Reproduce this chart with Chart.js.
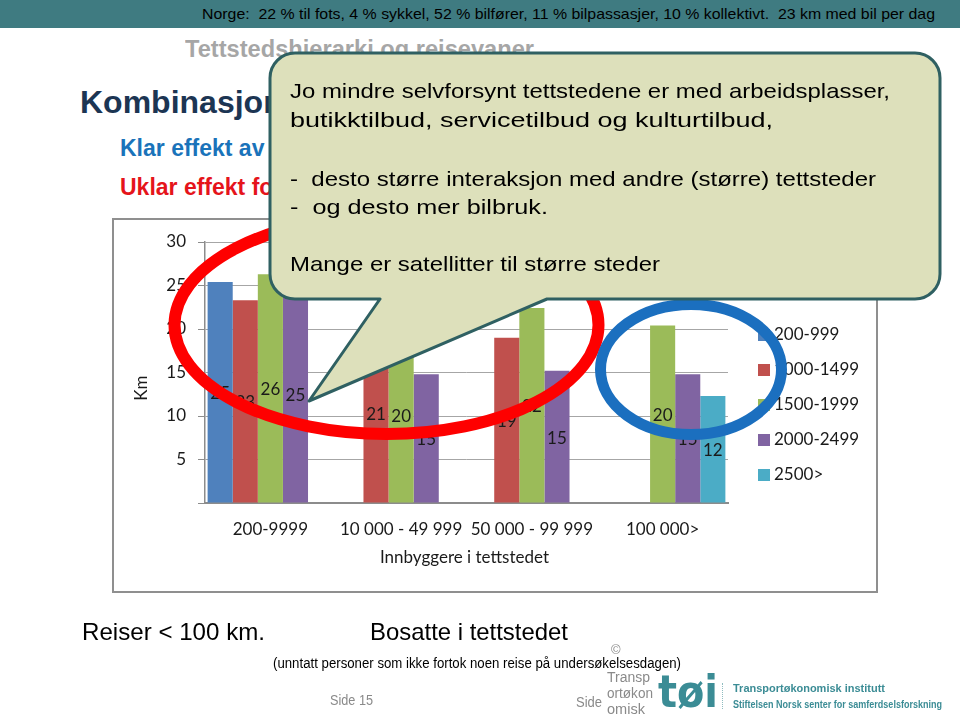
<!DOCTYPE html>
<html><head><meta charset="utf-8">
<script src="https://cdn.jsdelivr.net/npm/chart.js@4/dist/chart.umd.min.js"></script>
<style>
html,body{margin:0;padding:0;background:#fff;}
body{width:960px;height:717px;position:relative;overflow:hidden;font-family:"Liberation Sans",Arial,sans-serif;}
.t{position:absolute;white-space:pre;line-height:1;transform-origin:0 50%;}
#band{position:absolute;left:0;top:0;width:960px;height:28px;background:#3f7b81;}
#frame{position:absolute;left:112px;top:218px;width:766px;height:375px;box-sizing:border-box;border:2px solid #8f8f8f;background:#fff;}
#c{position:absolute;left:113px;top:219px;}
svg{position:absolute;left:0;top:0;}
</style></head>
<body>
<div id="band"></div>
<div class="t" data-x="202" data-y="15" data-s="14.5" data-w="733" style="color:#000">Norge:  22 % til fots, 4 % sykkel, 52 % bilfører, 11 % bilpassasjer, 10 % kollektivt.  23 km med bil per dag</div>
<div class="t" data-x="185" data-y="50" data-s="24" data-w="349" style="color:#a6a6a6;font-weight:bold">Tettstedshierarki og reisevaner</div>
<div class="t" data-x="80" data-y="104" data-s="32" style="color:#1c3553;font-weight:bold">Kombinasjoner</div>
<div class="t" data-x="120" data-y="150" data-s="23" style="color:#1a73ba;font-weight:bold">Klar effekt av størrelse</div>
<div class="t" data-x="120" data-y="189" data-s="23" style="color:#e5141b;font-weight:bold">Uklar effekt for de minste</div>

<div id="frame"></div>
<canvas id="c" width="764" height="372"></canvas>

<svg width="960" height="717" viewBox="0 0 960 717">
  <ellipse cx="386.5" cy="325" rx="212" ry="109" fill="none" stroke="#fe0000" stroke-width="12"/>
  <ellipse cx="691" cy="369.5" rx="90.5" ry="65" fill="none" stroke="#1b6fbf" stroke-width="11"/>
  <path d="M295,53 H915 A25,25 0 0 1 940,78 V274 A25,25 0 0 1 915,299 H547 L309,401 L380,299 H295 A25,25 0 0 1 270,274 V78 A25,25 0 0 1 295,53 Z" fill="#dde0bb" stroke="#2f6062" stroke-width="3" stroke-linejoin="round"/>
</svg>

<div class="t" data-x="290" data-y="92" data-s="21" data-w="600" style="color:#000">Jo mindre selvforsynt tettstedene er med arbeidsplasser,</div>
<div class="t" data-x="290" data-y="121" data-s="21" data-w="483" style="color:#000">butikktilbud, servicetilbud og kulturtilbud,</div>
<div class="t" data-x="290" data-y="180" data-s="21" data-w="586" style="color:#000">-  desto større interaksjon med andre (større) tettsteder</div>
<div class="t" data-x="290" data-y="208" data-s="21" data-w="258" style="color:#000">-  og desto mer bilbruk.</div>
<div class="t" data-x="290" data-y="265" data-s="21" data-w="370" style="color:#000">Mange er satellitter til større steder</div>

<div class="t" data-x="82" data-y="633" data-s="24" data-w="183" style="color:#000">Reiser &lt; 100 km.</div>
<div class="t" data-x="370" data-y="633" data-s="24" data-w="198" style="color:#000">Bosatte i tettstedet</div>
<div class="t" data-x="273" data-y="664" data-s="14" data-w="408" style="color:#000">(unntatt personer som ikke fortok noen reise på undersøkelsesdagen)</div>
<div class="t" data-x="330" data-y="701" data-s="14" data-w="43" style="color:#8a8a8a">Side 15</div>
<div class="t" data-x="576" data-y="703" data-s="14" data-w="26" style="color:#8a8a8a">Side</div>
<div class="t" data-x="611" data-y="650" data-s="13" style="color:#8a8a8a">©</div>
<div class="t" data-x="607" data-y="678" data-s="14" data-w="43" style="color:#8a8a8a">Transp</div>
<div class="t" data-x="607" data-y="694" data-s="14" data-w="46" style="color:#8a8a8a">ortøkon</div>
<div class="t" data-x="607" data-y="710" data-s="14" data-w="38" style="color:#8a8a8a">omisk</div>
<div class="t" data-x="658" data-y="694" data-s="44" data-w="60" style="color:#3b8c95;font-family:'DejaVu Sans',sans-serif;font-weight:bold">tøi</div>
<div style="position:absolute;left:722px;top:683px;height:26px;border-left:1px dotted #8fbcc0"></div>
<div class="t" data-x="733" data-y="689" data-s="11" data-w="152" style="color:#3b8c95;font-weight:bold">Transportøkonomisk institutt</div>
<div class="t" data-x="733" data-y="705" data-s="11" data-w="209" style="color:#3b8c95;font-weight:bold">Stiftelsen Norsk senter for samferdselsforskning</div>

<script>
// ---- data ----
const categories = ["200-9999", "10 000 - 49 999", "50 000 - 99 999", "100 000>"];
const seriesNames = ["200-999", "1000-1499", "1500-1999", "2000-2499", "2500>"];
const s200_999   = [25.4, null, null, null];
const s1000_1499 = [23.3, 20.6, 19.0, null];
const s1500_1999 = [26.3, 20.2, 22.4, 20.4];
const s2000_2499 = [24.9, 14.8, 15.2, 14.8];
const s2500      = [null, null, null, 12.3];
const yTicks = [5, 10, 15, 20, 25, 30];
const seriesColors = ["#4f81bd", "#c0504d", "#9bbb59", "#8064a2", "#4bacc6"];
const xTitle = "Innbyggere i tettstedet";
const yTitle = "Km";

// ---- text placement ----
document.querySelectorAll('.t').forEach(el => {
  const s = parseFloat(el.dataset.s);
  el.style.fontSize = s + 'px';
  el.style.left = el.dataset.x + 'px';
  el.style.top = (parseFloat(el.dataset.y) - s * 0.55) + 'px';
  if (el.dataset.w) {
    const w = el.getBoundingClientRect().width;
    el.style.transform = 'scaleX(' + (parseFloat(el.dataset.w) / w) + ')';
  }
});

// ---- chart ----
const FONT = "Lato, 'Open Sans', sans-serif";
const seriesData = [s200_999, s1000_1499, s1500_1999, s2000_2499, s2500];

const labelPlugin = {
  id: 'extras',
  afterDatasetsDraw(chart) {
    const ctx = chart.ctx;
    ctx.save();
    ctx.font = "17px " + FONT;
    ctx.fillStyle = "#1a1a1a";
    ctx.textAlign = "center";
    ctx.textBaseline = "middle";
    chart.data.datasets.forEach((ds, i) => {
      chart.getDatasetMeta(i).data.forEach((bar, j) => {
        const v = ds.data[j];
        if (v == null) return;
        ctx.fillText(String(Math.round(v)), bar.x, (bar.y + bar.base) / 2 + 1.5);
      });
    });
    ctx.restore();
  },
  afterDraw(chart) {
    const ctx = chart.ctx, a = chart.chartArea;
    ctx.save();
    ctx.font = "17px " + FONT;
    ctx.fillStyle = "#1a1a1a";
    ctx.textBaseline = "middle";
    // legend
    const lx = a.right + 30;
    const cy = chart.height / 2;
    chart.data.datasets.forEach((ds, i) => {
      const y = cy + (i - 2) * 35;
      ctx.fillStyle = ds.backgroundColor;
      ctx.fillRect(lx, y - 6, 12, 12);
      ctx.fillStyle = "#1a1a1a";
      ctx.textAlign = "left";
      ctx.fillText(ds.label, lx + 16, y);
    });
    // axis titles
    ctx.textAlign = "center";
    ctx.fillText(xTitle, (a.left + a.right) / 2 - 2, a.bottom + 55);
    ctx.translate(a.left - 63, a.top + (a.bottom - a.top) * 0.56);
    ctx.rotate(-Math.PI / 2);
    ctx.fillText(yTitle, 0, 0);
    ctx.restore();
  }
};

new Chart(document.getElementById('c'), {
  type: 'bar',
  data: {
    labels: categories,
    datasets: seriesNames.map((n, i) => ({
      label: n, data: seriesData[i], backgroundColor: seriesColors[i], borderWidth: 0
    }))
  },
  options: {
    responsive: false, animation: false, devicePixelRatio: 1,
    layout: { padding: { top: 23, right: 149, left: 0, bottom: 0 } },
    datasets: { bar: { categoryPercentage: 0.96, barPercentage: 1 } },
    plugins: { legend: { display: false }, tooltip: { enabled: false } },
    scales: {
      x: {
        grid: { display: false, drawTicks: false },
        border: { display: true, color: "#8c8c8c", width: 2 },
        ticks: { font: { family: FONT, size: 17 }, color: "#1a1a1a", padding: 16, maxRotation: 0, autoSkip: false },
        afterFit(s) { s.height = 88; }
      },
      y: {
        min: 0, max: 30,
        afterBuildTicks(s) { s.ticks = [0].concat(yTicks).map(v => ({ value: v })); },
        ticks: { font: { family: FONT, size: 17 }, color: "#1a1a1a", padding: 12,
                 callback: v => (v === 0 ? "" : String(v)) },
        grid: { color: "#a6a6a6", lineWidth: 1, tickLength: 7, drawTicks: true, tickColor: "#8c8c8c" },
        border: { color: "#8c8c8c", width: 1.5 },
        afterFit(s) { s.width = 92; }
      }
    }
  },
  plugins: [labelPlugin]
});
</script>
</body></html>
